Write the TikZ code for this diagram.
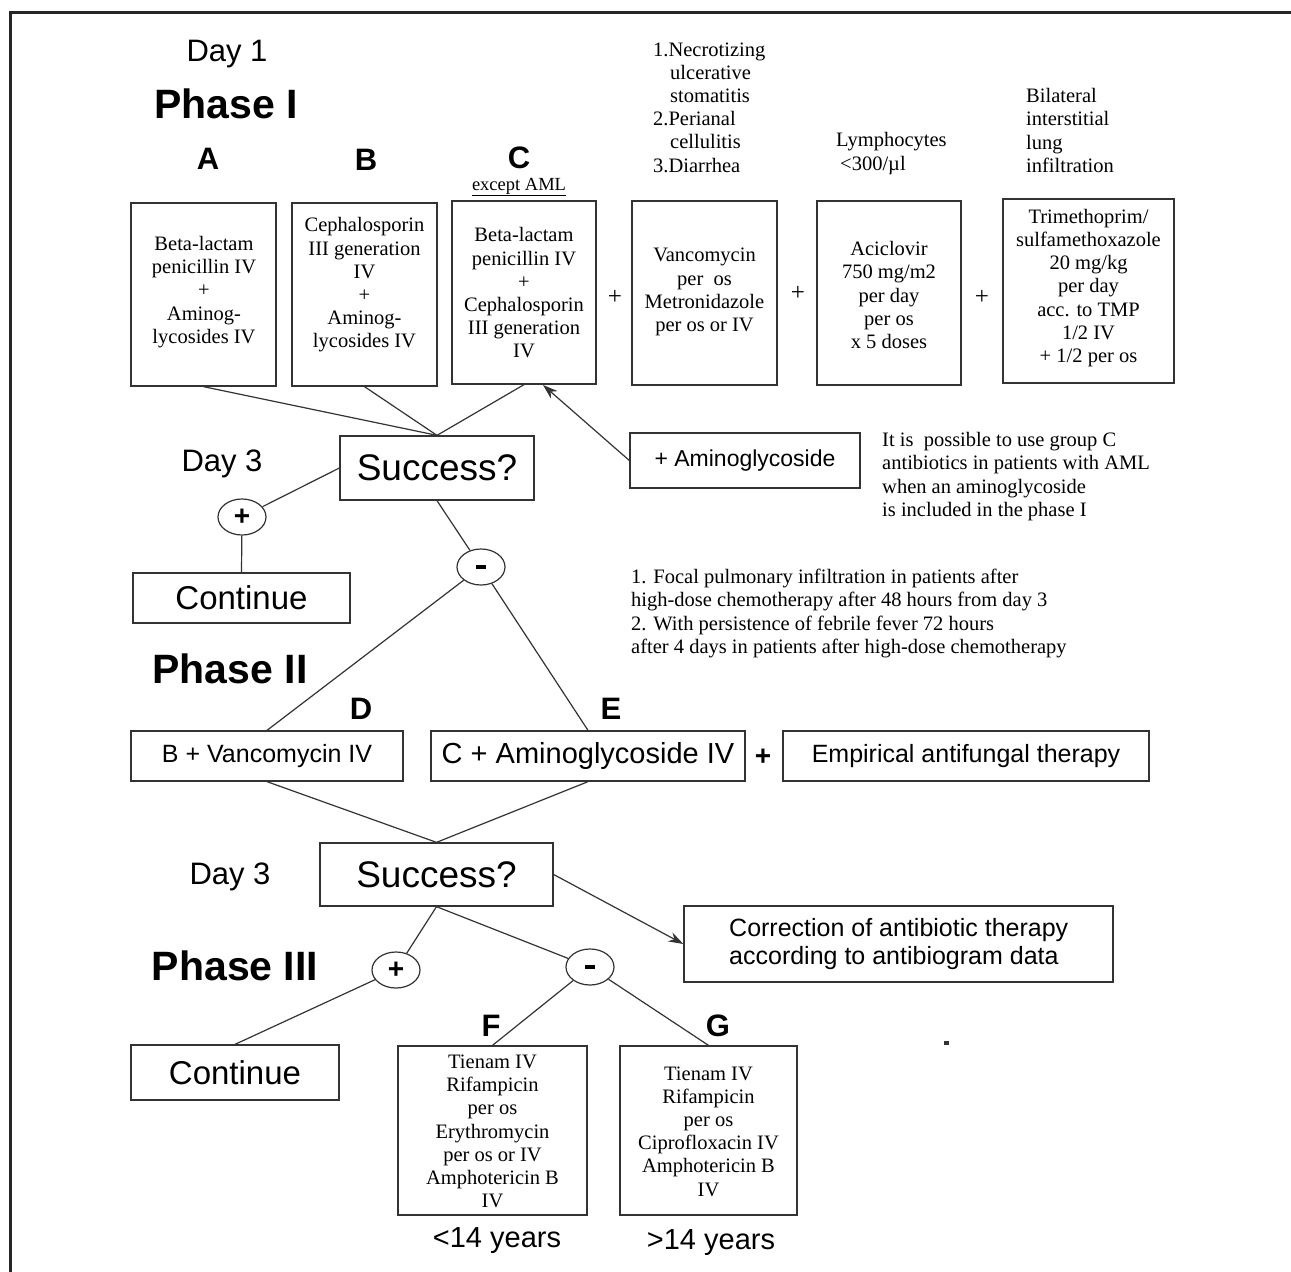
\documentclass[tikz,border=0pt]{standalone}
\usepackage{fontspec}
\setmainfont{Liberation Serif}
\setsansfont{Liberation Sans}
\usetikzlibrary{arrows.meta,shapes.geometric}
\newcommand{\fsz}[2]{\fontsize{#1}{#2}\selectfont}
\newcommand{\minusbar}{\rule{10pt}{4.5pt}}
\begin{document}
\begin{tikzpicture}[x=1pt,y=-1pt,
  box/.style={draw=black!80, line width=1.3pt, inner sep=0, rectangle},
  btxt/.style={font=\fsz{20.5}{23.2}, align=center, inner sep=0},
  note/.style={font=\fsz{20.5}{23.2}, align=left, inner sep=0, anchor=west},
  hdr/.style={font=\sffamily\fsz{31}{36}, inner sep=0},
  phase/.style={font=\sffamily\bfseries\fsz{41}{46}, inner sep=0},
  grp/.style={font=\sffamily\bfseries\fsz{31}{36}, inner sep=0},
  sgn/.style={draw=black!80, line width=1.2pt, ellipse, minimum width=48pt, minimum height=36pt, inner sep=0, font=\sffamily\bfseries\fsz{28}{30}},
  con/.style={draw=black!80, line width=1.2pt},
  arr/.style={con, -{Stealth[length=15pt,width=10pt]}},
]
\useasboundingbox (0,0) rectangle (1291,1272);
\fill[white] (0,0) rectangle (1291,1272);
\draw[line width=3pt, black!85] (10,1272) -- (10,12.5) -- (1291,12.5);

% headings
\node[hdr] (day1) at (227,54) {Day 1};
\node[phase] (ph1) at (226,104) {Phase I};
\node[grp] (lA) at (208,159) {A};
\node[grp] (lB) at (366,160) {B};
\node[grp] (lC) at (519,158) {C};
\node[font=\fsz{18.5}{20}, inner sep=0] (exc) at (519,187) {\underline{except AML}};

% indications
\node[note] (ind1) at (653,107.5) {1.Necrotizing\\\hspace{17pt}ulcerative\\\hspace{17pt}stomatitis\\2.Perianal\\\hspace{17pt}cellulitis\\3.Diarrhea};
\node[note] (ind2) at (836,153.5) {Lymphocytes\\\hspace{4pt}<300/µl};
\node[note] (ind3) at (1026,130.5) {Bilateral\\interstitial\\lung\\infiltration};

% phase I boxes
\node[box, minimum width=145pt, minimum height=183pt] (A) at (203.5,294.5) {};
\node[btxt] (At) at (204,292) {Beta-lactam\\penicillin IV\\+\\Aminog-\\lycosides IV};
\node[box, minimum width=145pt, minimum height=183pt] (B) at (364.5,294.5) {};
\node[btxt] (Bt) at (364.5,285) {Cephalosporin\\III generation\\IV\\+\\Aminog-\\lycosides IV};
\node[box, minimum width=144pt, minimum height=183pt] (C) at (524,292.5) {};
\node[btxt] (Ct) at (524,293) {Beta-lactam\\penicillin IV\\+\\Cephalosporin\\III generation\\IV};
\node[box, minimum width=145pt, minimum height=184pt] (V) at (704.5,293) {};
\node[btxt] (Vt) at (704.5,292) {Vancomycin\\per\enspace os\\Metronidazole\\per os or IV};
\node[box, minimum width=144pt, minimum height=184pt] (Ac) at (889,293) {};
\node[btxt] (Act) at (889,295) {Aciclovir\\750 mg/m2\\per day\\per os\\x 5 doses};
\node[box, minimum width=171pt, minimum height=184pt] (T) at (1088.5,291) {};
\node[btxt] (Tt) at (1088.5,288) {Trimethoprim/\\sulfamethoxazole\\20 mg/kg\\per day\\acc. to TMP\\1/2 IV\\+ 1/2 per os};
\node[font=\fsz{25}{26}, inner sep=0] (pl1) at (615,297) {+};
\node[font=\fsz{25}{26}, inner sep=0] (pl2) at (798,293) {+};
\node[font=\fsz{25}{26}, inner sep=0] (pl3) at (982,297) {+};

% success 1
\node[box, minimum width=194pt, minimum height=64pt, font=\sffamily\fsz{37}{40}] (S1) at (437,468) {Success?};
\node[hdr] (day3a) at (222,464) {Day 3};
\draw[con] (A.south) -- (S1.north);
\draw[con] (B.south) -- (S1.north);
\draw[con] (C.south) -- (S1.north);

\node[box, minimum width=230pt, minimum height=55pt, font=\sffamily\fsz{23}{26}] (Am) at (745,460.5) {+ Aminoglycoside};
\coordinate (Cin) at (543,385);
\draw[arr] (Am.west) -- (Cin);
\node[note] (nAML) at (882,476.5) {It is\ \ possible to use group C\\antibiotics in patients with AML\\when an aminoglycoside\\is included in the phase I};

\node[sgn] (p1) at (242,517) {+};
\node[sgn] (m1) at (481,567) {\minusbar};
\node[box, minimum width=217pt, minimum height=50pt, font=\sffamily\fsz{33}{36}] (K1) at (241.5,598) {Continue};
\draw[con] (S1.west) -- (p1);
\draw[con] (p1) -- (K1.north);
\draw[con] (S1.south) -- (m1);

\node[note] (nFocal) at (631,613.5) {1. Focal pulmonary infiltration in patients after\\high-dose chemotherapy after 48 hours from day 3\\2. With persistence of febrile fever 72 hours\\after 4 days in patients after high-dose chemotherapy};

% phase II
\node[phase] (ph2) at (230,669) {Phase II};
\node[grp] (lD) at (361,709) {D};
\node[grp] (lE) at (611,709) {E};
\node[box, minimum width=272pt, minimum height=50pt, font=\sffamily\fsz{25}{28}] (D) at (267,756) {B + Vancomycin IV};
\node[box, minimum width=314pt, minimum height=50pt, font=\sffamily\fsz{29}{32}] (E) at (588,756) {C + Aminoglycoside IV};
\node[font=\sffamily\bfseries\fsz{28}{30}, inner sep=0] (pl4) at (763,757) {+};
\node[box, minimum width=366pt, minimum height=50pt, font=\sffamily\fsz{25}{28}] (Emp) at (966,756) {Empirical antifungal therapy};
\draw[con] (m1) -- (D.north);
\draw[con] (m1) -- (E.north);

% success 2
\node[box, minimum width=233pt, minimum height=63pt, font=\sffamily\fsz{37}{40}] (S2) at (436.5,874.5) {Success?};
\node[hdr] (day3b) at (230,877) {Day 3};
\draw[con] (D.south) -- (S2.north);
\draw[con] (E.south) -- (S2.north);
\node[box, minimum width=429pt, minimum height=76pt] (Cor) at (898.5,944) {};
\node[font=\sffamily\fsz{25}{28}, align=left, inner sep=0, anchor=west] (Cort) at (729,944) {Correction of antibiotic therapy\\according to antibiogram data};
\draw[arr] (S2.east) -- (Cor.west);

% phase III
\node[phase] (ph3) at (235,966) {Phase III};
\node[sgn] (p2) at (396,970) {+};
\node[sgn] (m2) at (590,967) {\minusbar};
\draw[con] (S2.south) -- (p2);
\draw[con] (S2.south) -- (m2);
\node[box, minimum width=208pt, minimum height=55pt, font=\sffamily\fsz{33}{36}] (K2) at (235,1072.5) {Continue};
\draw[con] (p2) -- (K2.north);

\node[grp] (lF) at (491,1026) {F};
\node[grp] (lG) at (718,1026) {G};
\node[box, minimum width=189pt, minimum height=169pt] (F) at (492.5,1130.5) {};
\node[btxt] (Ft) at (492.5,1131.5) {Tienam IV\\Rifampicin\\per os\\Erythromycin\\per os or IV\\Amphotericin B\\IV};
\node[box, minimum width=177pt, minimum height=169pt] (G) at (708.5,1130.5) {};
\node[btxt] (Gt) at (708.5,1131.5) {Tienam IV\\Rifampicin\\per os\\Ciprofloxacin IV\\Amphotericin B\\IV};
\draw[con] (m2) -- (F.north);
\draw[con] (m2) -- (G.north);
\node[font=\sffamily\fsz{29}{32}, inner sep=0] (yF) at (497,1241) {<14 years};
\node[font=\sffamily\fsz{29}{32}, inner sep=0] (yG) at (711,1243) {>14 years};
\fill[black!80] (944,1041) rectangle (949,1045);
\end{tikzpicture}
\end{document}
